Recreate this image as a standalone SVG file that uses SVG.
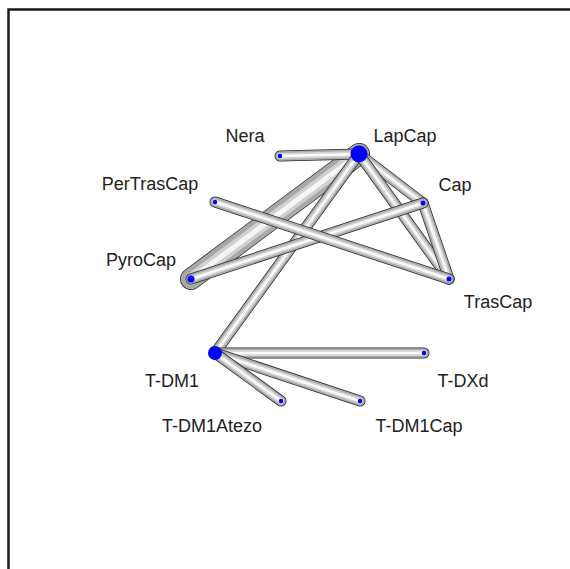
<svg xmlns="http://www.w3.org/2000/svg" xmlns:xlink="http://www.w3.org/1999/xlink" width="570" height="569" viewBox="0 0 570 569">
<style>
text{font-family:"Liberation Sans",Arial,sans-serif;font-size:18px;fill:#222;text-anchor:middle}
use{fill:none;stroke-linecap:round}
.o{stroke:#2a2a2a;stroke-width:11}
.m{stroke:#acacac;stroke-width:9.5}
.l{stroke:#d4d4d4;stroke-width:6}
.h{stroke:#fafafa;stroke-width:2.5}
.O{stroke:#2a2a2a;stroke-width:22}
.M{stroke:#a8a8a8;stroke-width:20.5}
.L{stroke:#d0d0d0;stroke-width:12}
.H{stroke:#f6f6f6;stroke-width:5}
.n{fill:#0000ff}
</style>
<defs>
<line id="e1" x1="359" y1="154" x2="191" y2="279"/>
<line id="e2" x1="359" y1="154" x2="280" y2="156"/>
<line id="e3" x1="359" y1="154" x2="215" y2="353"/>
<line id="e4" x1="359" y1="154" x2="423" y2="203"/>
<line id="e5" x1="359" y1="154" x2="449" y2="279"/>
<line id="e6" x1="423" y1="203" x2="449" y2="279"/>
<line id="e7" x1="423" y1="203" x2="191" y2="279"/>
<line id="e8" x1="215" y1="202" x2="449" y2="279"/>
<line id="e9" x1="215" y1="353" x2="424" y2="353"/>
<line id="e10" x1="215" y1="353" x2="360" y2="401"/>
<line id="e11" x1="215" y1="353" x2="281" y2="401"/>
</defs>
<rect width="570" height="569" fill="#fff"/>
<path d="M8.5,569 V9.5 H570" fill="none" stroke="#1a1a1a" stroke-width="2.5"/>
<g id="connectors">
<g><use xlink:href="#e1" class="O"/><use xlink:href="#e1" class="M"/><use xlink:href="#e1" class="L"/><use xlink:href="#e1" class="H"/></g>
<g><use xlink:href="#e2" class="o"/><use xlink:href="#e2" class="m"/><use xlink:href="#e2" class="l"/><use xlink:href="#e2" class="h"/></g>
<g><use xlink:href="#e3" class="o"/><use xlink:href="#e3" class="m"/><use xlink:href="#e3" class="l"/><use xlink:href="#e3" class="h"/></g>
<g><use xlink:href="#e4" class="o"/><use xlink:href="#e4" class="m"/><use xlink:href="#e4" class="l"/><use xlink:href="#e4" class="h"/></g>
<g><use xlink:href="#e5" class="o"/><use xlink:href="#e5" class="m"/><use xlink:href="#e5" class="l"/><use xlink:href="#e5" class="h"/></g>
<g><use xlink:href="#e6" class="o"/><use xlink:href="#e6" class="m"/><use xlink:href="#e6" class="l"/><use xlink:href="#e6" class="h"/></g>
<g><use xlink:href="#e7" class="o"/><use xlink:href="#e7" class="m"/><use xlink:href="#e7" class="l"/><use xlink:href="#e7" class="h"/></g>
<g><use xlink:href="#e8" class="o"/><use xlink:href="#e8" class="m"/><use xlink:href="#e8" class="l"/><use xlink:href="#e8" class="h"/></g>
<g><use xlink:href="#e9" class="o"/><use xlink:href="#e9" class="m"/><use xlink:href="#e9" class="l"/><use xlink:href="#e9" class="h"/></g>
<g><use xlink:href="#e10" class="o"/><use xlink:href="#e10" class="m"/><use xlink:href="#e10" class="l"/><use xlink:href="#e10" class="h"/></g>
<g><use xlink:href="#e11" class="o"/><use xlink:href="#e11" class="m"/><use xlink:href="#e11" class="l"/><use xlink:href="#e11" class="h"/></g>
</g>
<g id="LapCap"><circle class="n" cx="359" cy="154" r="8.5"/><text x="405" y="142">LapCap</text></g>
<g id="Nera"><circle class="n" cx="280" cy="156" r="2.2"/><text x="245" y="142">Nera</text></g>
<g id="Cap"><circle class="n" cx="423" cy="203" r="2.5"/><text x="455" y="191">Cap</text></g>
<g id="PerTrasCap"><circle class="n" cx="215" cy="202" r="2.2"/><text x="150" y="190">PerTrasCap</text></g>
<g id="PyroCap"><circle class="n" cx="191" cy="279" r="3.5"/><text x="141" y="266">PyroCap</text></g>
<g id="TrasCap"><circle class="n" cx="449" cy="279" r="2.5"/><text x="498" y="308">TrasCap</text></g>
<g id="T-DM1"><circle class="n" cx="215" cy="353" r="7"/><text x="172" y="387">T-DM1</text></g>
<g id="T-DXd"><circle class="n" cx="424" cy="353" r="2.2"/><text x="463" y="387">T-DXd</text></g>
<g id="T-DM1Atezo"><circle class="n" cx="281" cy="401" r="2.2"/><text x="212" y="432">T-DM1Atezo</text></g>
<g id="T-DM1Cap"><circle class="n" cx="360" cy="401" r="2.2"/><text x="419" y="432">T-DM1Cap</text></g>
</svg>
